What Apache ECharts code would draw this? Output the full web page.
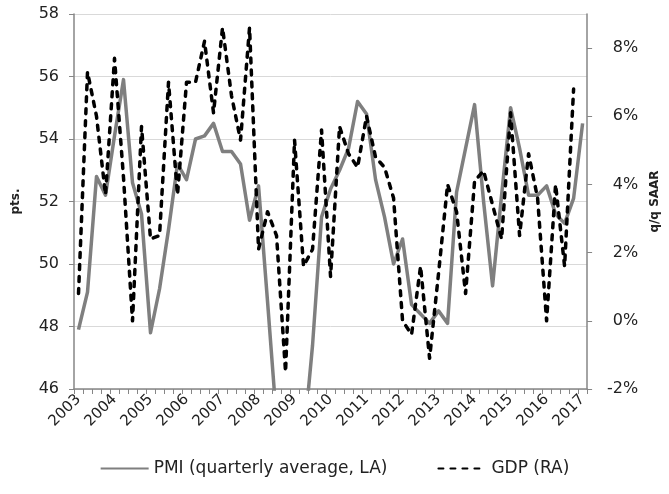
<!DOCTYPE html>
<html>
<head>
<meta charset="utf-8">
<script src="https://cdn.jsdelivr.net/npm/echarts@6/dist/echarts.min.js"></script>
<style>
html,body{margin:0;padding:0;background:#fff;}
#chart{width:669px;height:494px;}
</style>
</head>
<body>
<div id="chart"></div>
<script>
const categories = [
  '2003Q1','2003Q2','2003Q3','2003Q4','2004Q1','2004Q2','2004Q3','2004Q4',
  '2005Q1','2005Q2','2005Q3','2005Q4','2006Q1','2006Q2','2006Q3','2006Q4',
  '2007Q1','2007Q2','2007Q3','2007Q4','2008Q1','2008Q2','2008Q3','2008Q4',
  '2009Q1','2009Q2','2009Q3','2009Q4','2010Q1','2010Q2','2010Q3','2010Q4',
  '2011Q1','2011Q2','2011Q3','2011Q4','2012Q1','2012Q2','2012Q3','2012Q4',
  '2013Q1','2013Q2','2013Q3','2013Q4','2014Q1','2014Q2','2014Q3','2014Q4',
  '2015Q1','2015Q2','2015Q3','2015Q4','2016Q1','2016Q2','2016Q3','2016Q4',
  '2017Q1'
];
const pmi = [
  47.9, 49.1, 52.8, 52.2, 54.1, 55.9, 52.6, 51.6,
  47.8, 49.2, 51.1, 53.2, 52.7, 54.0, 54.1, 54.5,
  53.6, 53.6, 53.2, 51.4, 52.5, 48.8, 45.0, 43.0,
  42.5, 44.3, 47.4, 51.5, 52.4, 53.0, 53.7, 55.2,
  54.8, 52.7, 51.5, 50.0, 50.8, 48.7, 48.4, 48.1,
  48.5, 48.1, 52.3, 53.7, 55.1, 52.0, 49.3, 52.2,
  55.0, 53.7, 52.2, 52.2, 52.5, 51.6, 51.3, 52.1,
  54.5
];
const gdp = [
  0.8, 7.3, 6.0, 3.7, 7.7, 4.2, 0.0, 5.7,
  2.4, 2.5, 7.0, 3.7, 7.0, 7.0, 8.2, 6.1,
  8.6, 6.6, 5.3, 8.6, 2.1, 3.2, 2.5, -1.5,
  5.3, 1.6, 2.1, 5.6, 1.3, 5.7, 4.9, 4.5,
  6.0, 4.8, 4.5, 3.6, 0.0, -0.4, 1.6, -1.1,
  1.4, 4.0, 3.2, 0.8, 4.1, 4.4, 3.4, 2.4,
  6.1, 2.5, 4.9, 3.6, 0.0, 4.0, 1.6, 6.8,
  null
];
const leftTicks = [46, 48, 50, 52, 54, 56, 58];
const rightTicks = [-2, 0, 2, 4, 6, 8];

const FONT = 'DejaVu Sans';
const chart = echarts.init(document.getElementById('chart'), null, {renderer: 'canvas'});
chart.setOption({
  animation: false,
  backgroundColor: '#ffffff',
  grid: {left: 74, right: 80, top: 14, bottom: 105},
  legend: {
    bottom: 12,
    left: 'center',
    itemWidth: 48,
    itemHeight: 14,
    itemGap: 50,
    itemStyle: {opacity: 0},
    textStyle: {fontFamily: FONT, fontSize: 17, color: '#222'},
    data: ['PMI (quarterly average, LA)', 'GDP (RA)']
  },
  xAxis: {
    type: 'category',
    data: categories,
    axisLine: {onZero: false, lineStyle: {color: '#868686', width: 1.5}},
    axisTick: {show: true, interval: 0, length: 5, lineStyle: {color: '#868686'}},
    axisLabel: {
      interval: 3,
      rotate: 45,
      margin: 8,
      fontFamily: FONT,
      fontSize: 15,
      color: '#222',
      formatter: v => v.slice(0, 4)
    },
    splitLine: {show: false}
  },
  yAxis: [
    {
      type: 'value',
      min: 46, max: 58, interval: 2,
      position: 'left',
      name: 'pts.',
      nameLocation: 'middle',
      nameRotate: 90,
      nameGap: 52,
      nameTextStyle: {fontFamily: FONT, fontSize: 12, fontWeight: 'bold', color: '#222'},
      axisLine: {show: true, onZero: false, lineStyle: {color: '#868686', width: 1.5}},
      axisTick: {show: true, length: 5, lineStyle: {color: '#868686'}},
      axisLabel: {fontFamily: FONT, fontSize: 16, color: '#222', margin: 15, customValues: leftTicks},
      splitLine: {show: true, lineStyle: {color: '#d9d9d9', width: 1}}
    },
    {
      type: 'value',
      min: -2, max: 9, interval: 2,
      position: 'right',
      name: 'q/q SAAR',
      nameLocation: 'middle',
      nameRotate: 90,
      nameGap: 60,
      nameTextStyle: {fontFamily: FONT, fontSize: 12, fontWeight: 'bold', color: '#222'},
      axisLine: {show: true, onZero: false, lineStyle: {color: '#868686', width: 1.5}},
      axisTick: {show: true, length: 5, lineStyle: {color: '#868686'}, customValues: rightTicks},
      axisLabel: {fontFamily: FONT, fontSize: 16, color: '#222', margin: 51, align: 'right', customValues: rightTicks, formatter: v => v + '%'},
      splitLine: {show: false}
    }
  ],
  series: [
    {
      name: 'PMI (quarterly average, LA)',
      type: 'line',
      yAxisIndex: 0,
      data: pmi,
      symbol: 'none',
      clip: true,
      lineStyle: {color: '#7f7f7f', width: 3.5, join: 'round'},
      itemStyle: {color: '#7f7f7f'},
      z: 2
    },
    {
      name: 'GDP (RA)',
      type: 'line',
      yAxisIndex: 1,
      data: gdp,
      symbol: 'none',
      clip: true,
      lineStyle: {color: '#000000', width: 3.5, type: [5, 7], cap: 'round', join: 'round'},
      itemStyle: {color: '#000000'},
      z: 3
    }
  ]
});
function repaint() {
  const zr = chart.getZr();
  zr.storage.getDisplayList(true).forEach(el => { if (el.markRedraw) el.markRedraw(); });
  zr.refreshImmediately();
}
repaint();
setTimeout(repaint, 30);
setTimeout(repaint, 200);
</script>
</body>
</html>
